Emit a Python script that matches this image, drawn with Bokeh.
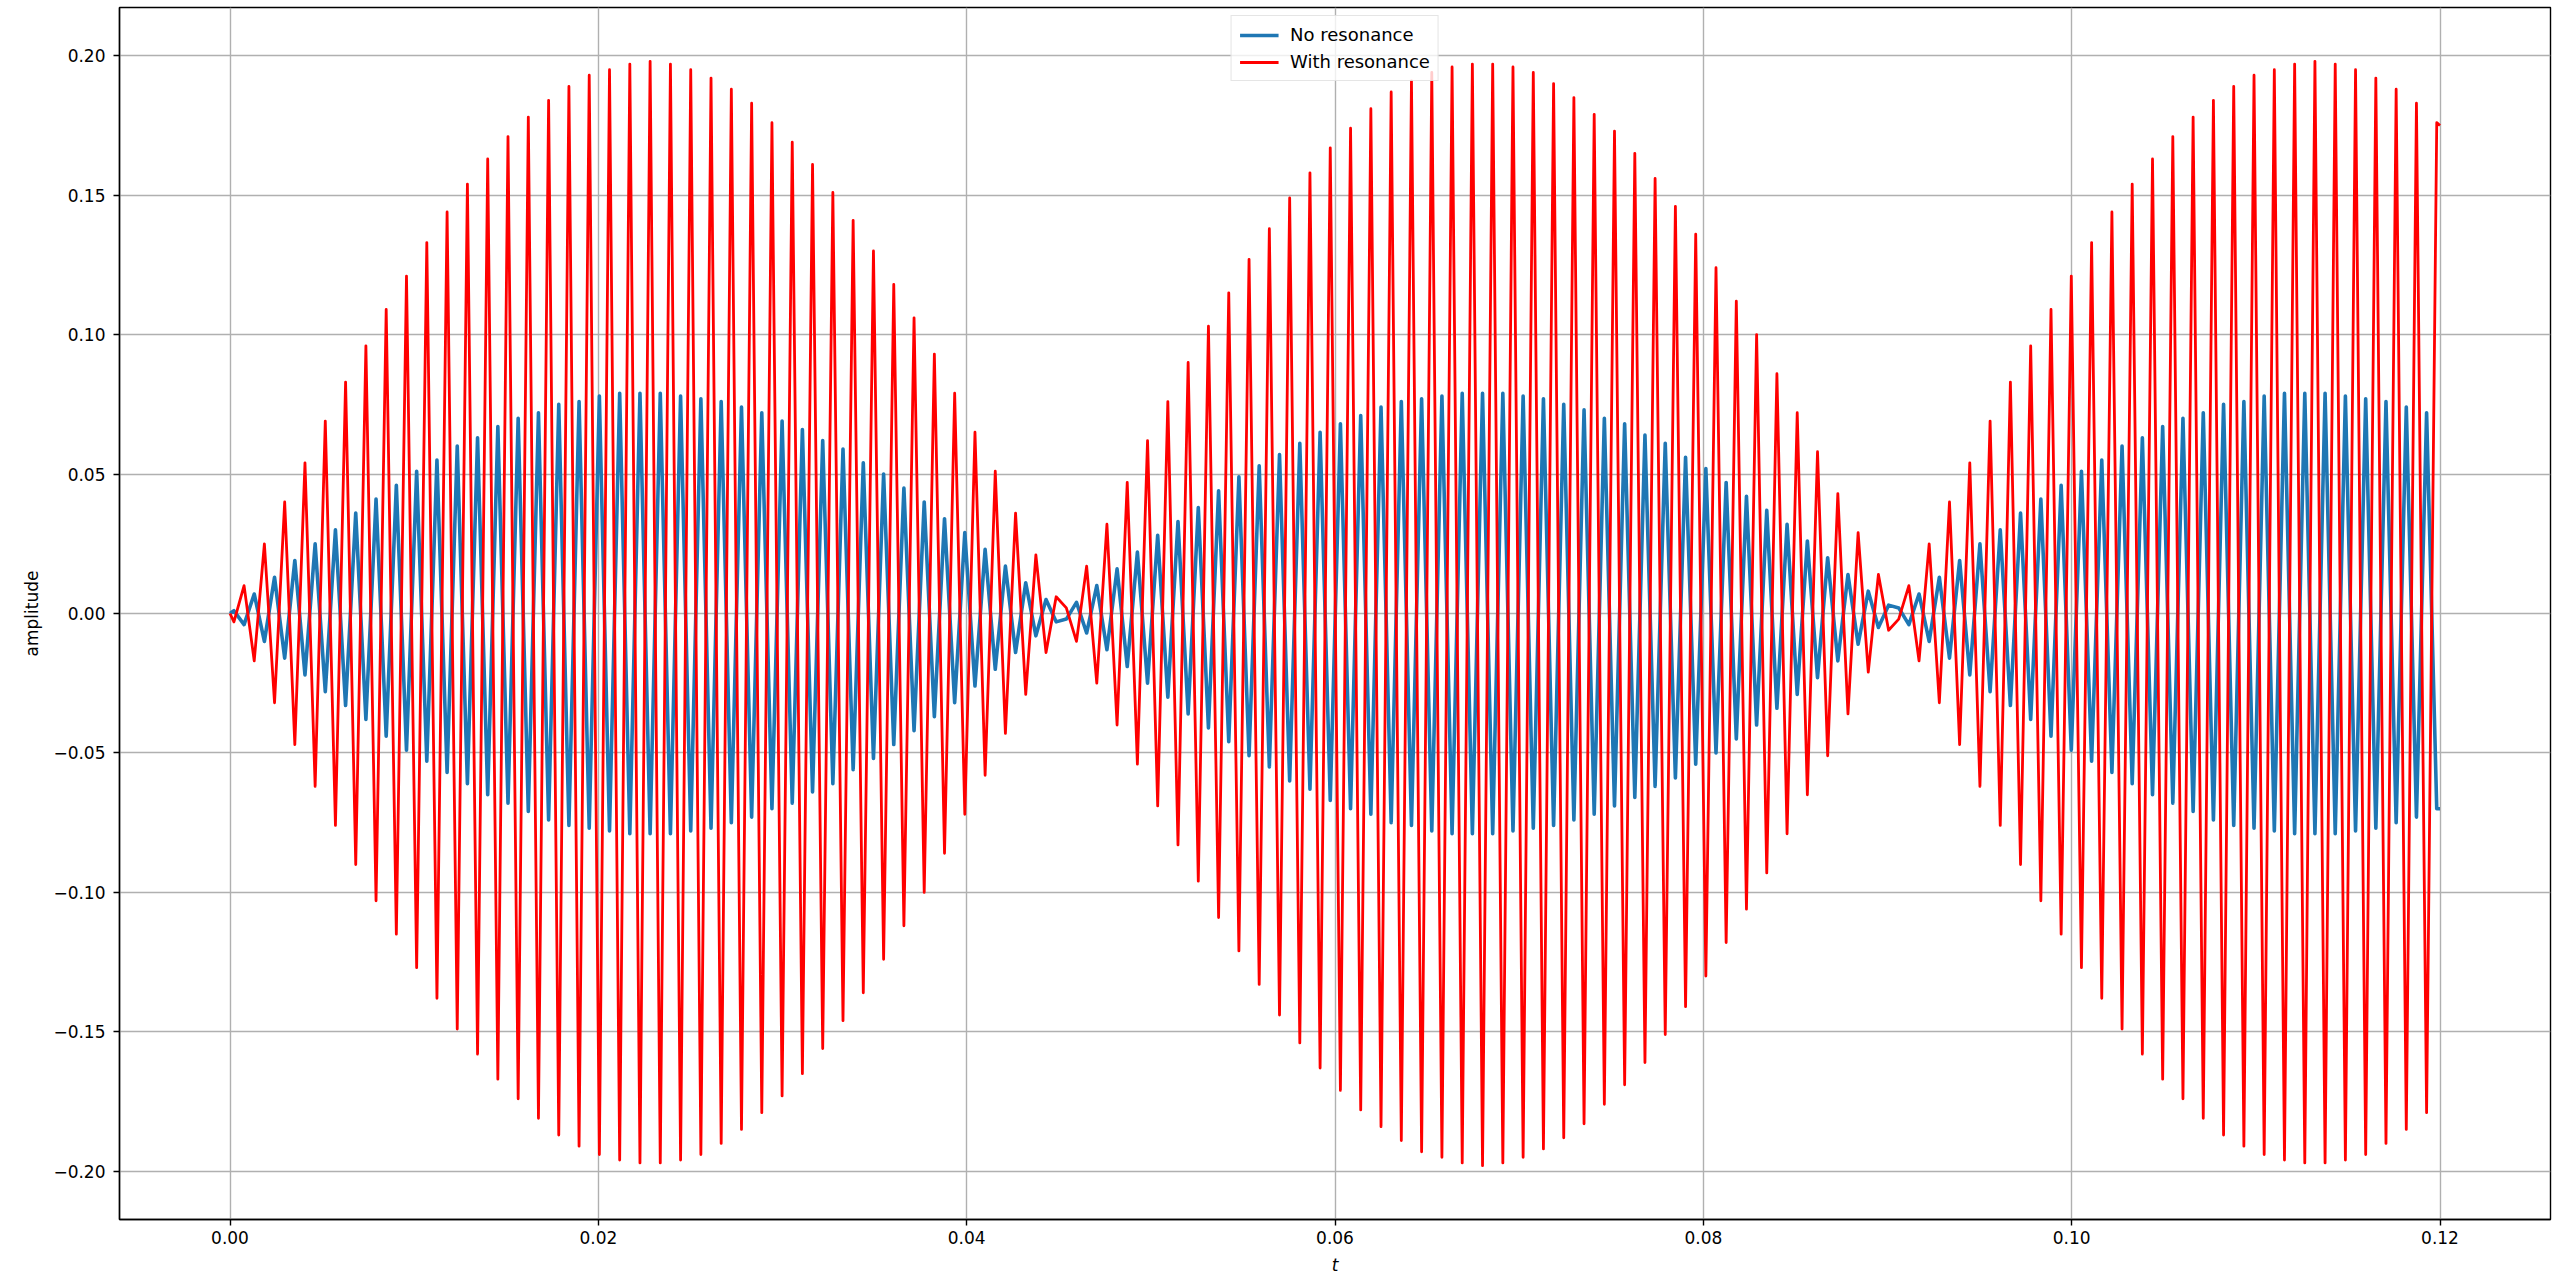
from bokeh.plotting import figure
from bokeh.models import Range1d, FixedTicker, ColumnDataSource
from bokeh.embed import file_html
from bokeh.resources import INLINE

# ---- data: times of the carrier extrema (s) ----
t_ext = [
    0.000213, 0.000764, 0.001315, 0.001867, 0.002418, 0.002969, 0.003520, 0.004071, 0.004623, 0.005174,
    0.005725, 0.006276, 0.006827, 0.007379, 0.007930, 0.008481, 0.009032, 0.009583, 0.010135, 0.010686,
    0.011237, 0.011788, 0.012339, 0.012891, 0.013442, 0.013993, 0.014544, 0.015095, 0.015647, 0.016198,
    0.016749, 0.017300, 0.017851, 0.018403, 0.018954, 0.019505, 0.020056, 0.020607, 0.021159, 0.021710,
    0.022261, 0.022812, 0.023363, 0.023915, 0.024466, 0.025017, 0.025568, 0.026119, 0.026671, 0.027222,
    0.027773, 0.028324, 0.028875, 0.029427, 0.029978, 0.030529, 0.031080, 0.031631, 0.032183, 0.032734,
    0.033285, 0.033836, 0.034387, 0.034939, 0.035490, 0.036041, 0.036592, 0.037143, 0.037695, 0.038246,
    0.038797, 0.039348, 0.039899, 0.040451, 0.041002, 0.041553, 0.042104, 0.042655, 0.043207, 0.043758,
    0.044309, 0.044860, 0.045411, 0.045963, 0.046514, 0.047065, 0.047616, 0.048167, 0.048719, 0.049270,
    0.049821, 0.050372, 0.050923, 0.051475, 0.052026, 0.052577, 0.053128, 0.053679, 0.054231, 0.054782,
    0.055333, 0.055884, 0.056435, 0.056987, 0.057538, 0.058089, 0.058640, 0.059191, 0.059743, 0.060294,
    0.060845, 0.061396, 0.061947, 0.062499, 0.063050, 0.063601, 0.064152, 0.064703, 0.065255, 0.065806,
    0.066357, 0.066908, 0.067459, 0.068011, 0.068562, 0.069113, 0.069664, 0.070215, 0.070767, 0.071318,
    0.071869, 0.072420, 0.072971, 0.073523, 0.074074, 0.074625, 0.075176, 0.075727, 0.076279, 0.076830,
    0.077381, 0.077932, 0.078483, 0.079035, 0.079586, 0.080137, 0.080688, 0.081239, 0.081791, 0.082342,
    0.082893, 0.083444, 0.083995, 0.084547, 0.085098, 0.085649, 0.086200, 0.086751, 0.087303, 0.087854,
    0.088405, 0.088956, 0.089507, 0.090059, 0.090610, 0.091161, 0.091712, 0.092263, 0.092815, 0.093366,
    0.093917, 0.094468, 0.095019, 0.095571, 0.096122, 0.096673, 0.097224, 0.097775, 0.098327, 0.098878,
    0.099429, 0.099980, 0.100531, 0.101083, 0.101634, 0.102185, 0.102736, 0.103287, 0.103839, 0.104390,
    0.104941, 0.105492, 0.106043, 0.106595, 0.107146, 0.107697, 0.108248, 0.108799, 0.109351, 0.109902,
    0.110453, 0.111004, 0.111555, 0.112107, 0.112658, 0.113209, 0.113760, 0.114311, 0.114863, 0.115414,
    0.115965, 0.116516, 0.117067, 0.117619, 0.118170, 0.118721, 0.119272, 0.119823,
]

# ---- "With resonance" (red) extrema values, per beat lobe ----
red_lobe1 = [
    -0.003, 0.010, -0.017, 0.025, -0.032, 0.040, -0.047, 0.054, -0.062, 0.069,
    -0.076, 0.083, -0.090, 0.096, -0.103, 0.109, -0.115, 0.121, -0.127, 0.133,
    -0.138, 0.144, -0.149, 0.154, -0.158, 0.163, -0.167, 0.171, -0.174, 0.178,
    -0.181, 0.184, -0.187, 0.189, -0.191, 0.193, -0.194, 0.195, -0.196, 0.197,
    -0.197, 0.198, -0.197, 0.197, -0.196, 0.195, -0.194, 0.192, -0.190, 0.188,
    -0.185, 0.183, -0.179, 0.176, -0.173, 0.169, -0.165, 0.161, -0.156, 0.151,
    -0.146, 0.141, -0.136, 0.130, -0.124, 0.118, -0.112, 0.106, -0.100, 0.093,
    -0.086, 0.079, -0.072, 0.065, -0.058, 0.051, -0.043, 0.036, -0.029, 0.021,
    -0.014, 0.006,
]
red_lobe2 = [
    0.002, -0.010, 0.017, -0.025, 0.032, -0.040, 0.047, -0.054, 0.062, -0.069,
    0.076, -0.083, 0.090, -0.096, 0.103, -0.109, 0.115, -0.121, 0.127, -0.133,
    0.138, -0.144, 0.149, -0.154, 0.158, -0.163, 0.167, -0.171, 0.174, -0.178,
    0.181, -0.184, 0.187, -0.189, 0.191, -0.193, 0.194, -0.195, 0.196, -0.197,
    0.197, -0.198, 0.197, -0.197, 0.196, -0.195, 0.194, -0.192, 0.190, -0.188,
    0.185, -0.183, 0.179, -0.176, 0.173, -0.169, 0.165, -0.161, 0.156, -0.151,
    0.146, -0.141, 0.136, -0.130, 0.124, -0.118, 0.112, -0.106, 0.100, -0.093,
    0.086, -0.079, 0.072, -0.065, 0.058, -0.051, 0.043, -0.036, 0.029, -0.021,
    0.014, -0.006,
]
red_lobe3 = [
    -0.002, 0.010, -0.017, 0.025, -0.032, 0.040, -0.047, 0.054, -0.062, 0.069,
    -0.076, 0.083, -0.090, 0.096, -0.103, 0.109, -0.115, 0.121, -0.127, 0.133,
    -0.138, 0.144, -0.149, 0.154, -0.158, 0.163, -0.167, 0.171, -0.174, 0.178,
    -0.181, 0.184, -0.187, 0.189, -0.191, 0.193, -0.194, 0.195, -0.196, 0.197,
    -0.197, 0.198, -0.197, 0.197, -0.196, 0.195, -0.194, 0.192, -0.190, 0.188,
    -0.185, 0.183, -0.179, 0.176,
]

# ---- "No resonance" (blue) extrema values, per beat lobe ----
blue_lobe1 = [
    0.001, -0.004, 0.007, -0.010, 0.013, -0.016, 0.019, -0.022, 0.025, -0.028,
    0.030, -0.033, 0.036, -0.038, 0.041, -0.044, 0.046, -0.049, 0.051, -0.053,
    0.055, -0.057, 0.060, -0.061, 0.063, -0.065, 0.067, -0.068, 0.070, -0.071,
    0.072, -0.074, 0.075, -0.076, 0.076, -0.077, 0.078, -0.078, 0.079, -0.079,
    0.079, -0.079, 0.079, -0.079, 0.078, -0.078, 0.077, -0.077, 0.076, -0.075,
    0.074, -0.073, 0.072, -0.070, 0.069, -0.068, 0.066, -0.064, 0.062, -0.061,
    0.059, -0.056, 0.054, -0.052, 0.050, -0.047, 0.045, -0.042, 0.040, -0.037,
    0.034, -0.032, 0.029, -0.026, 0.023, -0.020, 0.017, -0.014, 0.011, -0.008,
    0.005, -0.003,
]
blue_lobe2 = [
    -0.002, 0.004, -0.007, 0.010, -0.013, 0.016, -0.019, 0.022, -0.025, 0.028,
    -0.030, 0.033, -0.036, 0.038, -0.041, 0.044, -0.046, 0.049, -0.051, 0.053,
    -0.055, 0.057, -0.060, 0.061, -0.063, 0.065, -0.067, 0.068, -0.070, 0.071,
    -0.072, 0.074, -0.075, 0.076, -0.076, 0.077, -0.078, 0.078, -0.079, 0.079,
    -0.079, 0.079, -0.079, 0.079, -0.078, 0.078, -0.077, 0.077, -0.076, 0.075,
    -0.074, 0.073, -0.072, 0.070, -0.069, 0.068, -0.066, 0.064, -0.062, 0.061,
    -0.059, 0.056, -0.054, 0.052, -0.050, 0.047, -0.045, 0.042, -0.040, 0.037,
    -0.034, 0.032, -0.029, 0.026, -0.023, 0.020, -0.017, 0.014, -0.011, 0.008,
    -0.005, 0.003,
]
blue_lobe3 = [
    0.002, -0.004, 0.007, -0.010, 0.013, -0.016, 0.019, -0.022, 0.025, -0.028,
    0.030, -0.033, 0.036, -0.038, 0.041, -0.044, 0.046, -0.049, 0.051, -0.053,
    0.055, -0.057, 0.060, -0.061, 0.063, -0.065, 0.067, -0.068, 0.070, -0.071,
    0.072, -0.074, 0.075, -0.076, 0.076, -0.077, 0.078, -0.078, 0.079, -0.079,
    0.079, -0.079, 0.079, -0.079, 0.078, -0.078, 0.077, -0.077, 0.076, -0.075,
    0.074, -0.073, 0.072, -0.070,
]

# start and end samples of both curves
t_start, red_start, blue_start = 0.0, 0.0, 0.0
t_end, red_end, blue_end = 0.12, 0.175, -0.070

# ---- tick labels ----
x_ticks = [0, 0.02, 0.04, 0.06, 0.08, 0.1, 0.12]
x_tick_labels = ["0.00", "0.02", "0.04", "0.06", "0.08", "0.10", "0.12"]
y_ticks = [-0.2, -0.15, -0.1, -0.05, 0, 0.05, 0.1, 0.15, 0.2]
y_tick_labels = ["\u22120.20", "\u22120.15", "\u22120.10", "\u22120.05", "0.00",
                 "0.05", "0.10", "0.15", "0.20"]

t_all = [t_start] + t_ext + [t_end]
red_all = [red_start] + red_lobe1 + red_lobe2 + red_lobe3 + [red_end]
blue_all = [blue_start] + blue_lobe1 + blue_lobe2 + blue_lobe3 + [blue_end]

src = ColumnDataSource(data=dict(t=t_all, red=red_all, blue=blue_all))

FONT = "DejaVu Sans"

p = figure(width=2552, height=1280, output_backend="svg", toolbar_location=None,
           x_range=Range1d(-0.006, 0.126), y_range=Range1d(-0.2173, 0.2173),
           min_border_left=119, min_border_right=2, min_border_top=7,
           min_border_bottom=61)
p.background_fill_color = "white"
p.border_fill_color = "white"
p.outline_line_color = "black"
p.outline_line_width = 1.4

p.line("t", "blue", source=src, line_color="#1f77b4", line_width=3.6,
       line_join="round", legend_label="No resonance")
p.line("t", "red", source=src, line_color="#ff0000", line_width=2.8,
       line_join="round", legend_label="With resonance")

p.xaxis.ticker = FixedTicker(ticks=x_ticks)
p.xaxis.major_label_overrides = dict(zip(x_ticks, x_tick_labels))
p.yaxis.ticker = FixedTicker(ticks=y_ticks)
p.yaxis.major_label_overrides = dict(zip(y_ticks, y_tick_labels))

for ax in (p.xaxis[0], p.yaxis[0]):
    ax.major_tick_out = 6
    ax.major_tick_in = 0
    ax.minor_tick_out = 0
    ax.minor_tick_in = 0
    ax.major_tick_line_color = "black"
    ax.major_tick_line_width = 1.4
    ax.axis_line_color = "black"
    ax.axis_line_width = 1.4
    ax.major_label_text_font = FONT
    ax.major_label_text_font_size = "17px"
    ax.major_label_text_color = "black"
    ax.axis_label_text_font = FONT
    ax.axis_label_text_font_size = "17px"
    ax.axis_label_text_color = "black"

p.xaxis.axis_label = "t"
p.xaxis.axis_label_text_font_style = "italic"
p.xaxis.major_label_standoff = 5
p.xaxis.axis_label_standoff = 8
p.yaxis.axis_label = "amplitude"
p.yaxis.axis_label_text_font_style = "normal"
p.yaxis.major_label_standoff = 8
p.yaxis.axis_label_standoff = 8

p.grid.grid_line_color = "#b0b0b0"
p.grid.grid_line_width = 1.4

lg = p.legend[0]
lg.location = "top_center"
lg.margin = 8
lg.padding = 8
lg.spacing = 6
lg.label_height = 20
lg.glyph_height = 20
lg.glyph_width = 39
lg.label_standoff = 12
lg.label_text_font = FONT
lg.label_text_font_size = "18px"
lg.label_text_color = "black"
lg.border_line_color = "#cccccc"
lg.border_line_width = 1.4
lg.background_fill_color = "white"
lg.background_fill_alpha = 0.8

open("out.html", "w").write(file_html(p, INLINE))
